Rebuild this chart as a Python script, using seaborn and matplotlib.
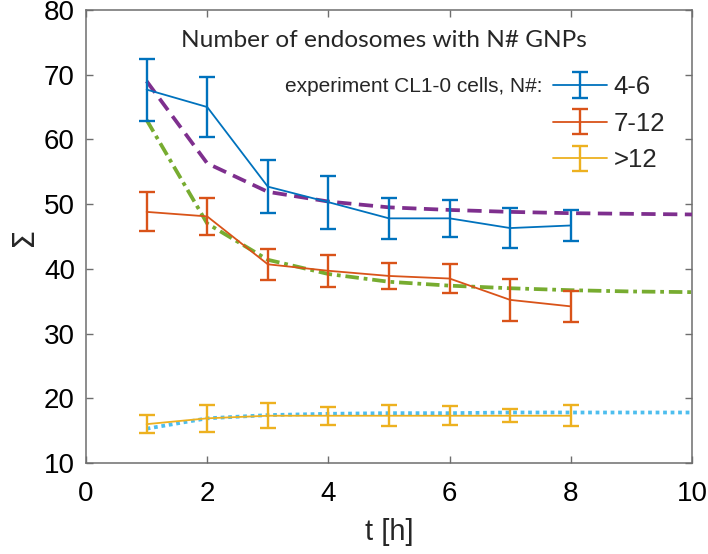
import numpy as np
import pandas as pd
import matplotlib
matplotlib.use("Agg")
import matplotlib.pyplot as plt
import seaborn as sns

# ---- data ----
t_exp = [1, 2, 3, 4, 5, 6, 7, 8]
y_46 = [67.7, 65.0, 52.7, 50.3, 47.8, 47.8, 46.3, 46.7]
e_46 = [4.8, 4.6, 4.1, 4.1, 3.2, 2.9, 3.1, 2.4]
y_712 = [48.8, 48.1, 40.7, 39.7, 38.9, 38.5, 35.2, 34.2]
e_712 = [3.0, 2.8, 2.4, 2.5, 2.0, 2.2, 3.2, 2.4]
y_g12 = [16.0, 16.9, 17.3, 17.3, 17.3, 17.3, 17.3, 17.3]
e_g12 = [1.4, 2.1, 1.9, 1.4, 1.6, 1.5, 1.0, 1.6]

t_mod = [1, 2, 3, 4, 5, 6, 7, 8, 9, 10]
m_46 = [69.0, 56.3, 51.9, 50.4, 49.5, 49.1, 48.8, 48.6, 48.5, 48.4]
m_712 = [63.0, 47.0, 41.4, 39.2, 38.0, 37.4, 37.0, 36.7, 36.5, 36.4]
m_g12 = [15.3, 16.9, 17.4, 17.6, 17.7, 17.7, 17.8, 17.8, 17.8, 17.8]

labels = ["4-6", "7-12", ">12"]
title_text = "Number of endosomes with N# GNPs"
legend_title = "experiment CL1-0 cells, N#:"

# ---- style ----
sns.set_style("white")
plt.rcParams['font.family'] = ['Liberation Sans', 'DejaVu Sans']

c_blue, c_red, c_yel = "#0072BD", "#D95319", "#EDB120"
c_pur, c_grn, c_cyan = "#7E2F8E", "#77AC30", "#4DBEEE"
axcol = "#6e6e6e"

fig = plt.figure(figsize=(7.08, 5.54), dpi=100)
ax = fig.add_axes([0.1215, 0.1643, 0.8559, 0.8177])

# model curves
mod = pd.DataFrame({"t": t_mod, "a": m_46, "b": m_712, "c": m_g12})
sns.lineplot(data=mod, x="t", y="a", ax=ax, color=c_pur, lw=2.7,
             linestyle=(0, (3.8, 2.0)), zorder=3)
sns.lineplot(data=mod, x="t", y="b", ax=ax, color=c_grn, lw=2.7,
             linestyle=(0, (3.6, 1.3, 1.0, 1.3)), zorder=3)
sns.lineplot(data=mod, x="t", y="c", ax=ax, color=c_cyan, lw=2.7,
             linestyle=(0, (1.0, 1.0)), zorder=3)

# experimental data
handles = []
for y, e, c, lab in [(y_46, e_46, c_blue, labels[0]),
                     (y_712, e_712, c_red, labels[1]),
                     (y_g12, e_g12, c_yel, labels[2])]:
    h = ax.errorbar(t_exp, y, yerr=e, color=c, lw=1.3, elinewidth=1.7,
                    capsize=5.5, capthick=1.7, zorder=4, label=lab)
    handles.append(h)

ax.set_xlim(0, 10)
ax.set_ylim(10, 80)
ax.set_xticks([0, 2, 4, 6, 8, 10])
ax.set_yticks([10, 20, 30, 40, 50, 60, 70, 80])
ax.tick_params(direction="in", length=5, width=1, colors=axcol,
               labelcolor="black", labelsize=20, top=True, right=True,
               bottom=True, left=True)
ax.tick_params(axis="x", pad=13)
ax.tick_params(axis="y", pad=8)
for s in ax.spines.values():
    s.set_visible(True)
    s.set_color(axcol)
    s.set_linewidth(1.1)

ax.set_xlabel("t [h]", fontsize=21, labelpad=8)
ax.set_ylabel("Σ", fontsize=22, labelpad=4, family=['DejaVu Sans'])

ax.text(0.492, 0.919, title_text, transform=ax.transAxes, ha="center",
        va="baseline", fontsize=17.6, family=['Lato', 'DejaVu Sans'])
ax.text(0.7525, 0.830, legend_title, transform=ax.transAxes, ha="right",
        va="center", fontsize=15)

leg = ax.legend(handles=handles, labels=labels, loc="upper left",
                bbox_to_anchor=(0.771, 0.857), frameon=False, fontsize=18.5,
                handlelength=2.1, handletextpad=0.25, labelspacing=0.5,
                borderpad=0, borderaxespad=0)

fig.savefig("out.png", dpi=100)
